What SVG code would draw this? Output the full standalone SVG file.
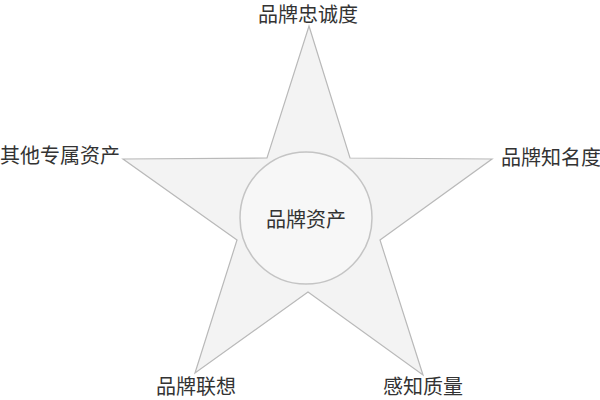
<svg xmlns="http://www.w3.org/2000/svg" width="600" height="400" viewBox="0 0 600 400">
<style>
.lbl{font-family:"Noto Sans CJK SC","Noto Sans CJK JP",sans-serif;font-size:20px;fill:#333;text-anchor:middle}
.star{fill:#f3f3f3;stroke:#b9b9b9;stroke-width:1.2}
.core{fill:#f7f7f7;stroke:#c4c4c4;stroke-width:1.5}
</style>
<rect width="600" height="400" fill="#fff"/>
<g id="star">
<polygon class="star" points="309,26 350,158 492,159 380,240 423,375 308,292 195,373 237,240 123,159 267,158"/>
</g>
<g id="brand-equity">
<circle class="core" cx="306" cy="218" r="66"/>
<text class="lbl" x="306" y="227">品牌资产</text>
</g>
<g id="loyalty"><text class="lbl" x="308" y="22">品牌忠诚度</text></g>
<g id="awareness"><text class="lbl" x="551" y="165">品牌知名度</text></g>
<g id="quality"><text class="lbl" x="423" y="394">感知质量</text></g>
<g id="association"><text class="lbl" x="196" y="394">品牌联想</text></g>
<g id="other"><text class="lbl" x="60" y="163">其他专属资产</text></g>
</svg>
